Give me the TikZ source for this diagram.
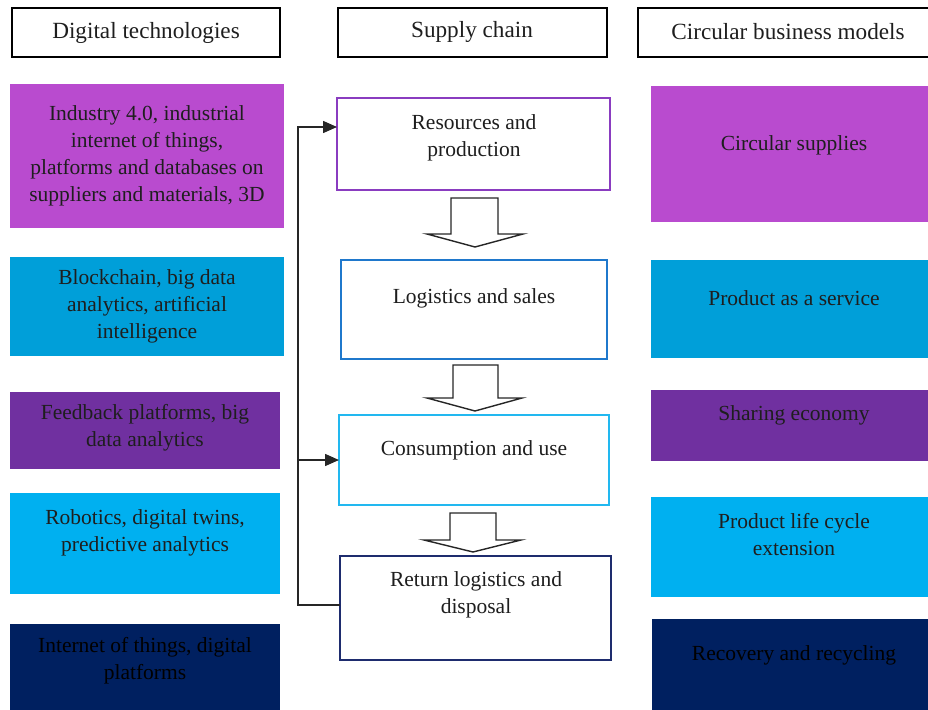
\documentclass[tikz,border=0pt]{standalone}
\usepackage{fontspec}
\setmainfont{Liberation Serif}
\usetikzlibrary{arrows.meta}
\definecolor{cmag}{HTML}{B94BCF}
\definecolor{cblue}{HTML}{009FD9}
\definecolor{cpurple}{HTML}{7030A0}
\definecolor{clight}{HTML}{00B0F0}
\definecolor{cnavy}{HTML}{002060}
\definecolor{bres}{HTML}{8A3CC0}
\definecolor{blog}{HTML}{1F78CC}
\definecolor{bcons}{HTML}{22B8F0}
\definecolor{bret}{HTML}{1E2C6E}
\definecolor{ctext}{HTML}{1E1E1E}
\tikzset{
  fillbox/.style={rectangle, inner sep=0pt, outer sep=0pt, anchor=north west},
  hdrbox/.style={fillbox, draw=black, line width=2.8pt},
  midbox/.style={fillbox, draw, fill=white, line width=1.8pt},
  txt/.style={font=\fontsize{21.5}{27}\selectfont, align=center, text=ctext, inner sep=0pt},
  hdrtxt/.style={font=\fontsize{23.2}{27}\selectfont, align=center, text=ctext, inner sep=0pt},
  conn/.style={line width=1.5pt, draw=black!85},
  tip/.style={-{Triangle[length=14pt,width=12pt]}},
  blockarrow/.style={draw=black!85, fill=white, line width=1.4pt, line join=miter},
}
\begin{document}
\begin{tikzpicture}[x=1pt,y=-1pt]
\useasboundingbox (0,0) rectangle (928,709);

% headers
\node[hdrbox, minimum width=268pt, minimum height=49pt] (h1) at (12,8) {};
\node[hdrbox, minimum width=269pt, minimum height=49pt] (h2) at (338,8) {};
\node[hdrbox, minimum width=300pt, minimum height=49pt] (h3) at (638,8) {};
\node[hdrtxt] (h1t) at (146,33) {Digital technologies};
\node[hdrtxt] (h2t) at (472,32) {Supply chain};
\node[hdrtxt] (h3t) at (788,32) {Circular business models};

% left column
\node[fillbox, fill=cmag,    minimum width=274pt, minimum height=144pt] (d1) at (10,84) {};
\node[fillbox, fill=cblue,   minimum width=274pt, minimum height=99pt]  (d2) at (10,257) {};
\node[fillbox, fill=cpurple, minimum width=270pt, minimum height=77pt]  (d3) at (10,392) {};
\node[fillbox, fill=clight,  minimum width=270pt, minimum height=101pt] (d4) at (10,493) {};
\node[fillbox, fill=cnavy,   minimum width=270pt, minimum height=95pt]  (d5) at (10,624) {};
\node[txt] (d1t) at (147,156) {Industry 4.0, industrial\\internet of things,\\platforms and databases on\\suppliers and materials, 3D};
\node[txt] (d2t) at (147,306) {Blockchain, big data\\analytics, artificial\\intelligence};
\node[txt] (d3t) at (145,428) {Feedback platforms, big\\data analytics};
\node[txt] (d4t) at (145,533) {Robotics, digital twins,\\predictive analytics};
\node[txt, text=black] (d5t) at (145,661) {Internet of things, digital\\platforms};

% right column
\node[fillbox, fill=cmag,    minimum width=285pt, minimum height=136pt] (c1) at (651,86) {};
\node[fillbox, fill=cblue,   minimum width=285pt, minimum height=98pt]  (c2) at (651,260) {};
\node[fillbox, fill=cpurple, minimum width=285pt, minimum height=71pt]  (c3) at (651,390) {};
\node[fillbox, fill=clight,  minimum width=285pt, minimum height=100pt] (c4) at (651,497) {};
\node[fillbox, fill=cnavy,   minimum width=285pt, minimum height=95pt]  (c5) at (652,619) {};
\node[txt] (c1t) at (794,145) {Circular supplies};
\node[txt] (c2t) at (794,298) {Product as a service};
\node[txt] (c3t) at (794,415) {Sharing economy};
\node[txt] (c4t) at (794,535) {Product life cycle\\extension};
\node[txt, text=black] (c5t) at (794,655) {Recovery and recycling};

% supply chain boxes
\node[midbox, draw=bres,  minimum width=273pt, minimum height=92pt]  (res)  at (337,98) {};
\node[midbox, draw=blog,  minimum width=266pt, minimum height=99pt]  (log)  at (341,260) {};
\node[midbox, draw=bcons, minimum width=270pt, minimum height=90pt]  (cons) at (339,415) {};
\node[midbox, draw=bret,  minimum width=271pt, minimum height=104pt] (ret)  at (340,556) {};
\node[txt] (rest)  at (474,138) {Resources and\\production};
\node[txt] (logt)  at (474,298) {Logistics and sales};
\node[txt] (const) at (474,450) {Consumption and use};
\node[txt] (rett)  at (476,595) {Return logistics and\\disposal};

% block arrows
\draw[blockarrow] (451,198) -- (498,198) -- (498,234) -- (523,234) -- (475,247) -- (427,234) -- (451,234) -- cycle;
\draw[blockarrow] (453,365) -- (498,365) -- (498,398) -- (522,398) -- (475,411) -- (427,398) -- (453,398) -- cycle;
\draw[blockarrow] (450,513) -- (496,513) -- (496,540) -- (521,540) -- (473,552) -- (424,540) -- (450,540) -- cycle;

% feedback connector
\coordinate (bl) at (298,605);
\coordinate (tl) at (298,127);
\coordinate (ml) at (298,460);
\draw[conn, tip] ([yshift=3pt]ret.west) -- (bl) -- (tl) -- (tl -| res.west);
\draw[conn, tip] (ml) -- (ml -| cons.west);
\end{tikzpicture}
\end{document}
